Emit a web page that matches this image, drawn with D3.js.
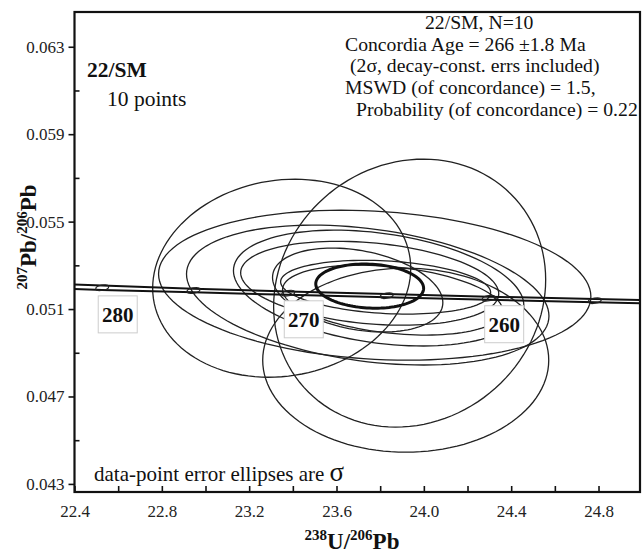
<!DOCTYPE html>
<html>
<head>
<meta charset="utf-8">
<script src="https://cdn.jsdelivr.net/npm/d3@7"></script>
<style>
body { margin: 0; background: #fff; }
svg { display: block; }
svg text { font-family: "Liberation Serif", "Times New Roman", serif !important; }
</style>
</head>
<body>
<script>
var w = 643;
var h = 556;

// axis ticks
var xTicks = [22.4, 22.8, 23.2, 23.6, 24.0, 24.4, 24.8];
var xMinor = [22.6, 23.0, 23.4, 23.8, 24.2, 24.6];
var yTicks = [0.043, 0.047, 0.051, 0.055, 0.059, 0.063];
var yMinor = [0.045, 0.049, 0.053, 0.057, 0.061];

// data-point error ellipses (1 sigma)
var ptX   = [23.349, 23.935, 23.917, 23.775, 23.743, 23.793, 23.752, 23.697, 23.825, 23.857];
var ptY   = [0.05241, 0.05173, 0.04866, 0.05209, 0.05164, 0.05196, 0.05218, 0.05187, 0.05200, 0.05141];
var ptSX  = [0.591, 0.623, 0.655, 0.990, 0.830, 0.665, 0.591, 0.390, 0.481, 0.504];
var ptSY  = [0.00453, 0.00613, 0.00421, 0.00343, 0.00320, 0.00265, 0.00192, 0.00192, 0.00123, 0.00160];
var ptRho = [0.10, 0.10, 0.00, -0.15, -0.30, -0.30, -0.25, -0.30, -0.20, -0.30];

// concordia age ellipse
var ageX = 23.752, ageY = 0.05205, ageSX = 0.247, ageSY = 0.00101, ageRho = -0.1;

// concordia band (two curves), Ma
var concAge = [250, 255, 260, 265, 270, 275, 280, 285];
var concX   = [25.289, 24.783, 24.297, 23.830, 23.379, 22.945, 22.527, 22.123];
var concYlo = [0.051203, 0.051315, 0.051427, 0.051539, 0.051652, 0.051764, 0.051877, 0.051991];
var concYhi = [0.051343, 0.051455, 0.051567, 0.051689, 0.051802, 0.051934, 0.052077, 0.052211];
var markAges  = [255, 260, 265, 270, 275, 280];
var labelAges = [260, 270, 280];

var infoLines = ["22/SM, N=10",
                 "Concordia Age = 266 \u00b11.8 Ma",
                 "(2\u03c3, decay-const. errs included)",
                 "MSWD (of concordance) = 1.5,",
                 "Probability (of concordance) = 0.22"];
var infoX = [425, 345, 350, 345, 356];

var svg = d3.select('body')
            .append('svg')
            .attr('width', w)
            .attr('height', h);

var x = d3.scaleLinear().domain([22.4, 24.99]).range([74.5, 640]);
var y = d3.scaleLinear().domain([0.04263, 0.06459]).range([492, 12]);

svg.append('clipPath').attr('id', 'plot')
   .append('rect')
   .attr('x', x.range()[0]).attr('y', y.range()[1])
   .attr('width', x.range()[1] - x.range()[0])
   .attr('height', y.range()[0] - y.range()[1]);

var plot = svg.append('g').attr('clip-path', 'url(#plot)');

function ellipsePts(cx, cy, sx, sy, rho) {
    var pts = [];
    var k = Math.sqrt(1 - rho * rho);
    for (var i = 0; i < 120; i++) {
        var t = i / 120 * 2 * Math.PI;
        pts.push([cx + sx * Math.cos(t), cy + sy * (rho * Math.cos(t) + k * Math.sin(t))]);
    }
    return pts;
}

var linePath = d3.line()
                 .x(function(d) { return x(d[0]); })
                 .y(function(d) { return y(d[1]); });
var ringPath = d3.line()
                 .x(function(d) { return x(d[0]); })
                 .y(function(d) { return y(d[1]); })
                 .curve(d3.curveLinearClosed);

// data ellipses
plot.selectAll('path.pt')
    .data(d3.range(ptX.length))
    .enter()
    .append('path')
    .attr('class', 'pt')
    .attr('d', function(i) { return ringPath(ellipsePts(ptX[i], ptY[i], ptSX[i], ptSY[i], ptRho[i])); })
    .attr('fill', 'none')
    .attr('stroke', '#222')
    .attr('stroke-width', 1.3);

// concordia band
[concYlo, concYhi].forEach(function(ys) {
    plot.append('path')
        .attr('d', linePath(concX.map(function(v, i) { return [v, ys[i]]; })))
        .attr('fill', 'none')
        .attr('stroke', '#111')
        .attr('stroke-width', 2);
});

// age markers on concordia
markAges.forEach(function(a) {
    var i = concAge.indexOf(a);
    var mx = x(concX[i]), my = y((concYlo[i] + concYhi[i]) / 2);
    plot.append('ellipse')
        .attr('cx', mx).attr('cy', my)
        .attr('rx', 6.5).attr('ry', 2.6)
        .attr('transform', 'rotate(-10,' + mx + ',' + my + ')')
        .attr('fill', 'none')
        .attr('stroke', '#222')
        .attr('stroke-width', 1.2);
});

// concordia age ellipse
plot.append('path')
    .attr('d', ringPath(ellipsePts(ageX, ageY, ageSX, ageSY, ageRho)))
    .attr('fill', 'none')
    .attr('stroke', '#111')
    .attr('stroke-width', 3);

// age labels
labelAges.forEach(function(a) {
    var i = concAge.indexOf(a);
    var bx = x(concX[i]) - 4, by = y(concYlo[i]) + 6;
    svg.append('rect')
       .attr('x', bx).attr('y', by)
       .attr('width', 39).attr('height', 37)
       .attr('fill', '#fff')
       .attr('stroke', '#ccc')
       .attr('stroke-width', 1);
    svg.append('text')
       .attr('x', bx + 19.5).attr('y', by + 26)
       .attr('text-anchor', 'middle')
       .attr('font-size', 21)
       .attr('font-weight', 'bold')
       .attr('fill', '#111')
       .text(a);
});

// axes
var xAxis = d3.axisBottom(x).tickValues(xTicks).tickFormat(d3.format('.1f'))
              .tickSizeInner(-6).tickSizeOuter(0).tickPadding(13);
var xAxisMinor = d3.axisBottom(x).tickValues(xMinor).tickFormat('')
                   .tickSizeInner(-6).tickSizeOuter(0);
var yAxis = d3.axisLeft(y).tickValues(yTicks).tickFormat(d3.format('.3f'))
              .tickSizeInner(6).tickSizeOuter(0).tickPadding(4);
var yAxisMinor = d3.axisLeft(y).tickValues(yMinor).tickFormat('')
                   .tickSizeInner(-5).tickSizeOuter(0);

[[xAxis, 'translate(0,' + y.range()[0] + ')'],
 [xAxisMinor, 'translate(0,' + y.range()[0] + ')'],
 [yAxis, 'translate(' + x.range()[0] + ',0)'],
 [yAxisMinor, 'translate(' + x.range()[0] + ',0)']].forEach(function(a) {
    var g = svg.append('g').attr('transform', a[1]).call(a[0])
               .attr('font-family', '"Liberation Serif", serif')
               .attr('font-size', 17);
    g.select('.domain').remove();
    g.selectAll('line').attr('stroke', '#111').attr('stroke-width', 1.6);
    g.selectAll('text').attr('fill', '#222');
});

// frame
svg.append('rect')
   .attr('x', x.range()[0]).attr('y', y.range()[1])
   .attr('width', x.range()[1] - x.range()[0])
   .attr('height', y.range()[0] - y.range()[1])
   .attr('fill', 'none')
   .attr('stroke', '#111')
   .attr('stroke-width', 2.2);

// axis titles
var xt = svg.append('text')
            .attr('x', 352).attr('y', 549)
            .attr('text-anchor', 'middle')
            .attr('font-weight', 'bold')
            .attr('font-size', 23)
            .attr('fill', '#111');
xt.append('tspan').attr('font-size', 15).attr('dy', -9).text('238');
xt.append('tspan').attr('dy', 9).text('U/');
xt.append('tspan').attr('font-size', 15).attr('dy', -9).text('206');
xt.append('tspan').attr('dy', 9).text('Pb');

var yt = svg.append('text')
            .attr('transform', 'translate(36,237) rotate(-90)')
            .attr('text-anchor', 'middle')
            .attr('font-weight', 'bold')
            .attr('font-size', 23)
            .attr('fill', '#111');
yt.append('tspan').attr('font-size', 15).attr('dy', -9).text('207');
yt.append('tspan').attr('dy', 9).text('Pb/');
yt.append('tspan').attr('font-size', 15).attr('dy', -9).text('206');
yt.append('tspan').attr('dy', 9).text('Pb');

// annotations
svg.append('text')
   .attr('x', 87).attr('y', 77)
   .attr('font-size', 21.5)
   .attr('font-weight', 'bold')
   .attr('fill', '#111')
   .text('22/SM');
svg.append('text')
   .attr('x', 107).attr('y', 106)
   .attr('font-size', 21.5)
   .attr('fill', '#111')
   .text('10 points');

svg.selectAll('text.info')
   .data(infoLines)
   .enter()
   .append('text')
   .attr('class', 'info')
   .attr('x', function(d, i) { return infoX[i]; })
   .attr('y', function(d, i) { return 29 + i * 21.7; })
   .attr('font-size', 19.7)
   .attr('fill', '#111')
   .text(function(d) { return d; });

var note = svg.append('text')
              .attr('x', 94).attr('y', 481)
              .attr('font-size', 21)
              .attr('fill', '#111');
note.append('tspan').text('data-point error ellipses are ');
note.append('tspan').attr('font-size', 27).text('\u03c3');
</script>
</body>
</html>
